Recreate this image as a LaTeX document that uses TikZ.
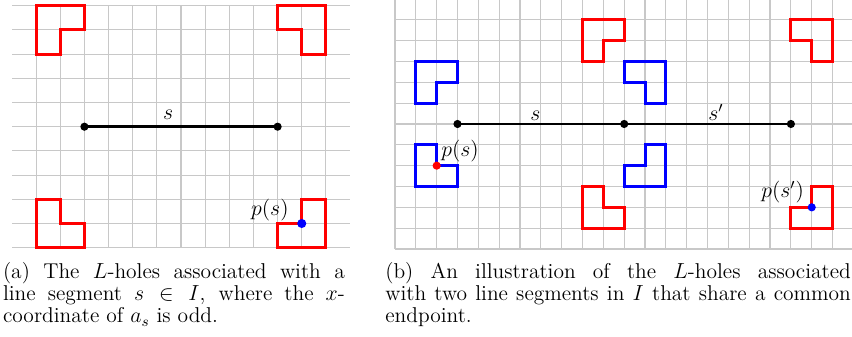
\documentclass[tikz,border=0pt]{standalone}
\usetikzlibrary{positioning}
\definecolor{gridgray}{RGB}{200,200,200}
\definecolor{holered}{RGB}{255,0,0}
\definecolor{holeblue}{RGB}{0,0,255}

\tikzset{
  gridline/.style={draw=gridgray, line width=0.65pt},
  redhole/.style={draw=holered, line width=1.6pt},
  bluehole/.style={draw=holeblue, line width=1.6pt},
  segline/.style={draw=black, line width=1.5pt},
  enddot/.style={circle, fill=black, inner sep=0pt, minimum size=4.5pt},
  seglabel/.style={anchor=base, inner sep=0pt, font=\large},
  caption/.style={anchor=north west, inner sep=0pt, align=justify, font=\fontsize{11.8}{12.1}\selectfont}
}

\begin{document}
\begin{tikzpicture}[x=0.55pt, y=-0.55pt]
  \useasboundingbox (0,0) rectangle (852,336);

  % (a) one segment
  \begin{scope}[shift={(12,247.7)}, x=13.28pt, y=13.31pt]
    % Grid
    \foreach \i in {1,...,13} \draw[gridline] (\i,0) -- (\i,10);
    \foreach \j in {0,...,10} \draw[gridline] (0,\j) -- (14,\j);

    % L-holes
    \draw[redhole] (1,10) -- (3,10) -- (3,9) -- (2,9) -- (2,8) -- (1,8) -- cycle;
    \draw[redhole] (11,10) -- (13,10) -- (13,8) -- (12,8) -- (12,9) -- (11,9) -- cycle;
    \draw[redhole] (1,2) -- (2,2) -- (2,1) -- (3,1) -- (3,0) -- (1,0) -- cycle;
    \draw[redhole] (11,1) -- (12,1) -- (12,2) -- (13,2) -- (13,0) -- (11,0) -- cycle;

    % Segment s
    \node[enddot] (as) at (3,5) {};
    \node[enddot] (bs) at (11,5) {};
    \draw[segline] (as.center) -- (bs.center);
    \node[seglabel] (slab) at (6.47,5.3) {$s$};

    % Point p(s)
    \node[enddot, fill=holeblue, minimum size=5pt] (ps) at (12,1) {};
    \node[seglabel] (pslab) at (10.68,1.35) {$p(s)$};
  \end{scope}

  % (b) two segments sharing an endpoint
  \begin{scope}[shift={(395,249)}, x=11.46pt, y=11.46pt]
    % Grid
    \foreach \i in {0,...,21} \draw[gridline] (\i,0) -- (\i,11.95);
    \foreach \j in {0,...,11} \draw[gridline] (0,\j) -- (21.94,\j);

    % L-holes of s
    \draw[bluehole] (1,9) -- (3,9) -- (3,8) -- (2,8) -- (2,7) -- (1,7) -- cycle;
    \draw[bluehole] (1,5) -- (2,5) -- (2,4) -- (3,4) -- (3,3) -- (1,3) -- cycle;
    \draw[redhole] (9,11) -- (11,11) -- (11,10) -- (10,10) -- (10,9) -- (9,9) -- cycle;
    \draw[redhole] (9,3) -- (10,3) -- (10,2) -- (11,2) -- (11,1) -- (9,1) -- cycle;

    % L-holes of s'
    \draw[bluehole] (11,9) -- (13,9) -- (13,7) -- (12,7) -- (12,8) -- (11,8) -- cycle;
    \draw[bluehole] (12,5) -- (13,5) -- (13,3) -- (11,3) -- (11,4) -- (12,4) -- cycle;
    \draw[redhole] (19,11) -- (21,11) -- (21,9) -- (20,9) -- (20,10) -- (19,10) -- cycle;
    \draw[redhole] (20,3) -- (21,3) -- (21,1) -- (19,1) -- (19,2) -- (20,2) -- cycle;

    % Segments s and s'
    \node[enddot] (ls) at (3,6) {};
    \node[enddot] (ms) at (11,6) {};
    \node[enddot] (rs) at (19,6) {};
    \draw[segline] (ls.center) -- (ms.center);
    \draw[segline] (ms.center) -- (rs.center);
    \node[seglabel] (sblab) at (6.74,6.19) {$s$};
    \node[seglabel] (spblab) at (15.4,6.19) {$s'$};

    % Points p(s) and p(s')
    \node[enddot, fill=holered] (pbs) at (2,4) {};
    \node[seglabel] (pbslab) at (3.12,4.43) {$p(s)$};
    \node[enddot, fill=holeblue] (pbsp) at (20,2) {};
    \node[seglabel] (pbsplab) at (18.6,2.46) {$p(s')$};
  \end{scope}

  % Captions
  \node[caption, text width=188pt] (capa) at (2.7,262.4)
    {(a) The $L$-holes associated with a\linebreak line segment $s\in I$, where the $x$-\linebreak coordinate of $a_s$ is odd.};
  \node[caption, text width=256pt] (capb) at (385,262.4)
    {(b) An illustration of the $L$-holes associated\linebreak with two line segments in $I$ that share a common\linebreak endpoint.};
\end{tikzpicture}
\end{document}
